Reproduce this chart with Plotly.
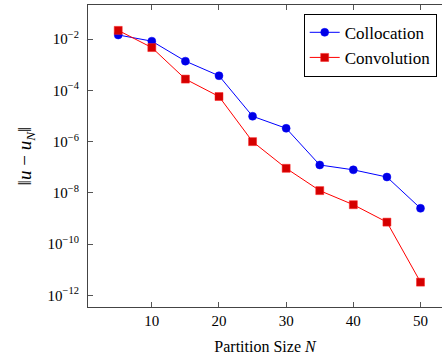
import plotly.graph_objects as go

N = [5, 10, 15, 20, 25, 30, 35, 40, 45, 50]
collocation_exp = [-1.84, -2.08, -2.86, -3.43, -5.01, -5.48, -6.91, -7.10, -7.38, -8.60]
convolution_exp = [-1.66, -2.33, -3.56, -4.24, -6.00, -7.04, -7.91, -8.46, -9.14, -11.48]
collocation = [10 ** e for e in collocation_exp]
convolution = [10 ** e for e in convolution_exp]

ytick_exps = [-2, -4, -6, -8, -10, -12]
ytick_vals = [10 ** e for e in ytick_exps]
ytick_text = ["10<sup>−%d</sup>" % (-e) for e in ytick_exps]
xtick_vals = [10, 20, 30, 40, 50]

font = "Liberation Serif, Times New Roman, DejaVu Serif, serif"

fig = go.Figure()
fig.add_trace(go.Scatter(
    x=N, y=collocation, mode="lines+markers", name="Collocation",
    line=dict(color="#0000ff", width=1),
    marker=dict(symbol="circle", size=8, color="#0000e6", line=dict(color="#0000ff", width=0.5)),
))
fig.add_trace(go.Scatter(
    x=N, y=convolution, mode="lines+markers", name="Convolution",
    line=dict(color="#ff0000", width=1),
    marker=dict(symbol="square", size=8, color="#d40000", line=dict(color="#ff2020", width=0.5)),
))

fig.update_layout(
    width=442, height=360,
    margin=dict(l=88, r=0, t=5, b=53),
    paper_bgcolor="white", plot_bgcolor="white",
    font=dict(family=font, size=15, color="black"),
    showlegend=True,
    legend=dict(
        x=0.985, y=0.971, xanchor="right", yanchor="top",
        bordercolor="black", borderwidth=1, bgcolor="white",
        font=dict(family=font, size=17, color="black"),
        tracegroupgap=0, itemwidth=30,
    ),
    xaxis=dict(
        range=[0.5, 53.2], tickvals=xtick_vals,
        ticks="inside", ticklen=5, tickcolor="#555",
        showline=True, linecolor="#444", linewidth=1, mirror="allticks",
        showgrid=False, zeroline=False,
        tickfont=dict(family=font, size=15),
        title=dict(text="Partition Size <i>N</i>", font=dict(family=font, size=16), standoff=12),
    ),
    yaxis=dict(
        type="log", range=[-12.45, -0.67],
        tickvals=ytick_vals, ticktext=ytick_text,
        ticks="inside", ticklen=5, tickcolor="#555", ticklabelstandoff=5,
        showline=True, linecolor="#444", linewidth=1, mirror=False,
        showgrid=False, zeroline=False,
        tickfont=dict(family=font, size=15),
        title=dict(text="‖<i>u</i> − <i>u</i><sub><i>N</i></sub>‖", font=dict(family=font, size=19), standoff=10),
    ),
)

fig.write_html("out.html", config={"displayModeBar": False},
               post_script="document.body.style.margin='0';")
